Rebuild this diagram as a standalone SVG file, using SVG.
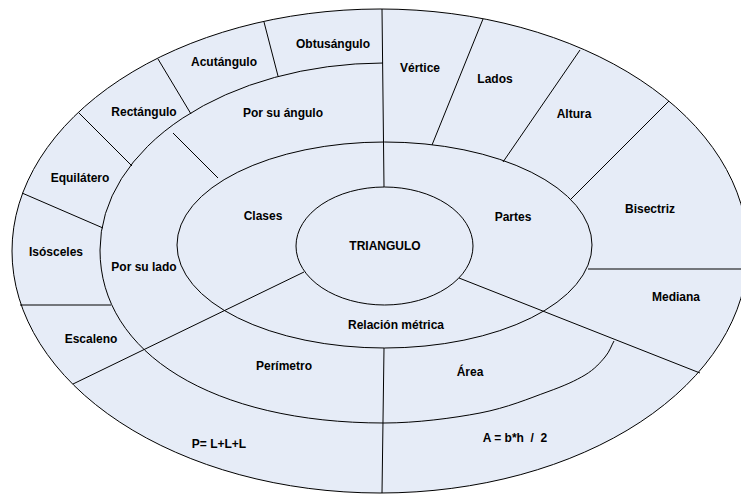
<svg xmlns="http://www.w3.org/2000/svg" width="741" height="494" viewBox="0 0 741 494">
<style>
.ring{fill:#E6ECF7;stroke:#000;stroke-width:1}
.arc{fill:none;stroke:#000;stroke-width:1}
.div line{stroke:#000;stroke-width:1}
text{font-family:"Liberation Sans",Arial,sans-serif;font-size:12px;font-weight:bold;fill:#000;text-anchor:middle}
</style>
<rect width="741" height="494" fill="#fff"/>
<g id="rings">
<ellipse id="ring-outer" class="ring" cx="380" cy="251" rx="368" ry="242"/>
<path id="ring-tipos" class="arc" d="M 383 63 A 284 187 0 0 0 100 250 C 100 353.8 213.6 423 384 423 C 416 423 452.8 418.2 480 413 C 507.2 407.8 529.5 398.3 547 392 C 564.5 385.7 575.3 380.8 585 375 C 594.7 369.2 600.2 362.7 605 357 C 609.8 351.3 611 346.3 614 341"/>
<ellipse id="ring-middle" class="ring" cx="384.5" cy="245" rx="207.5" ry="103"/>
<ellipse id="ring-inner" class="ring" cx="384.5" cy="246" rx="88.5" ry="59"/>
</g>
<g id="connectors" class="div">
<line x1="264" y1="22" x2="278" y2="76"/>
<line x1="158" y1="59" x2="191" y2="114"/>
<line x1="79" y1="113" x2="132" y2="166"/>
<line x1="22" y1="193" x2="103" y2="228"/>
<line x1="20" y1="305" x2="111" y2="305"/>
<line x1="173" y1="133" x2="218" y2="178"/>
<line x1="73" y1="384" x2="304" y2="272"/>
<line x1="382" y1="9" x2="384" y2="187"/>
<line x1="483" y1="19" x2="432" y2="145"/>
<line x1="580" y1="50" x2="503" y2="162"/>
<line x1="669" y1="101" x2="571" y2="199"/>
<line x1="588" y1="269" x2="741" y2="269"/>
<line x1="459" y1="278" x2="700" y2="373"/>
<line x1="384" y1="348" x2="382" y2="493"/>
</g>
<g id="node-triangulo"><text x="385" y="250">TRIANGULO</text></g>
<g id="node-clases"><text x="263" y="220">Clases</text></g>
<g id="node-partes"><text x="513" y="221">Partes</text></g>
<g id="node-relacion"><text x="396" y="329">Relación métrica</text></g>
<g id="node-por-angulo"><text x="283" y="117">Por su ángulo</text></g>
<g id="node-por-lado"><text x="144" y="271">Por su lado</text></g>
<g id="node-obtusangulo"><text x="333" y="48">Obtusángulo</text></g>
<g id="node-acutangulo"><text x="224" y="66">Acutángulo</text></g>
<g id="node-rectangulo"><text x="144" y="116">Rectángulo</text></g>
<g id="node-equilatero"><text x="80" y="182">Equilátero</text></g>
<g id="node-isosceles"><text x="56" y="256">Isósceles</text></g>
<g id="node-escaleno"><text x="91" y="343">Escaleno</text></g>
<g id="node-vertice"><text x="420" y="72">Vértice</text></g>
<g id="node-lados"><text x="495" y="83">Lados</text></g>
<g id="node-altura"><text x="574" y="118">Altura</text></g>
<g id="node-bisectriz"><text x="650" y="213">Bisectriz</text></g>
<g id="node-mediana"><text x="676" y="301">Mediana</text></g>
<g id="node-perimetro"><text x="284" y="370">Perímetro</text></g>
<g id="node-perimetro-formula"><text x="219" y="448">P= L+L+L</text></g>
<g id="node-area"><text x="470" y="376">Área</text></g>
<g id="node-area-formula"><text x="515" y="442" xml:space="preserve">A = b*h  /  2</text></g>
</svg>
